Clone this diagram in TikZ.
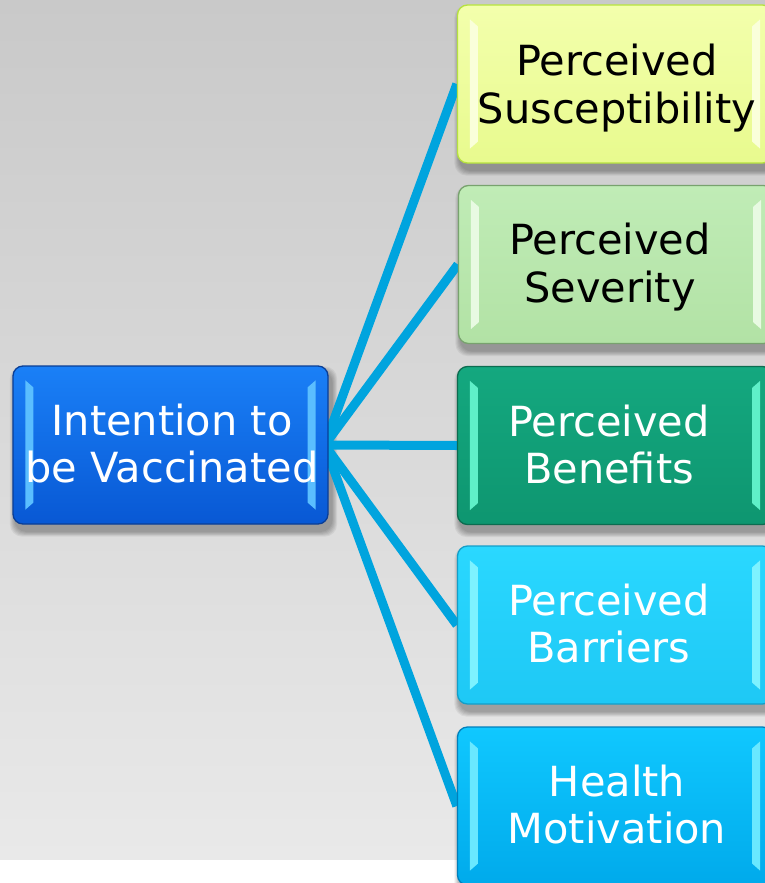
\documentclass[tikz,border=0pt]{standalone}
\usepackage{fontspec}
\setmainfont{DejaVu Sans}
\pgfdeclarelayer{bglayer}
\pgfdeclarelayer{shad}
\pgfdeclarelayer{conn}
\pgfsetlayers{bglayer,shad,conn,main}
\definecolor{bgtop}{RGB}{201,201,201}
\definecolor{bgbot}{RGB}{233,233,233}
\definecolor{linkc}{RGB}{0,164,222}
\definecolor{lbTop}{RGB}{26,128,247}\definecolor{lbBot}{RGB}{8,88,212}\definecolor{lbDraw}{RGB}{10,62,150}\definecolor{lbBev}{RGB}{90,190,255}
\definecolor{aTop}{RGB}{243,255,172}\definecolor{aBot}{RGB}{232,250,142}\definecolor{aDraw}{RGB}{182,226,62}\definecolor{aBev}{RGB}{250,255,218}
\definecolor{bTop}{RGB}{192,236,182}\definecolor{bBot}{RGB}{178,226,165}\definecolor{bDraw}{RGB}{120,162,110}\definecolor{bBev}{RGB}{232,250,226}
\definecolor{cTop}{RGB}{20,168,127}\definecolor{cBot}{RGB}{14,150,112}\definecolor{cDraw}{RGB}{12,108,80}\definecolor{cBev}{RGB}{95,240,200}
\definecolor{dTop}{RGB}{42,216,255}\definecolor{dBot}{RGB}{30,200,245}\definecolor{dDraw}{RGB}{20,158,200}\definecolor{dBev}{RGB}{125,242,255}
\definecolor{eTop}{RGB}{16,200,255}\definecolor{eBot}{RGB}{0,170,235}\definecolor{eDraw}{RGB}{0,128,188}\definecolor{eBev}{RGB}{105,232,255}
\newcommand\bevelstrips[2]{%
  \fill[#2] ([xshift=13pt,yshift=-15pt]#1.north west) -- ([xshift=21pt,yshift=-22pt]#1.north west)
     -- ([xshift=21pt,yshift=22pt]#1.south west) -- ([xshift=13pt,yshift=15pt]#1.south west) -- cycle;
  \fill[#2] ([xshift=-13pt,yshift=-15pt]#1.north east) -- ([xshift=-21pt,yshift=-22pt]#1.north east)
     -- ([xshift=-21pt,yshift=22pt]#1.south east) -- ([xshift=-13pt,yshift=15pt]#1.south east) -- cycle;}
\newcommand\softshadow[1]{%
  \begin{pgfonlayer}{shad}
  \foreach \s in {1,2,...,6}{%
    \fill[black, opacity=0.055, rounded corners=12pt]
      ([xshift={3pt-\s*0.9pt}, yshift={-6.5pt+\s*0.9pt}]#1.north west) rectangle
      ([xshift={3pt+\s*0.9pt}, yshift={-6.5pt-\s*0.9pt}]#1.south east);}
  \end{pgfonlayer}}
\tikzset{
  box/.style={rectangle, rounded corners=10pt, minimum width=315pt, minimum height=158pt,
    inner sep=0pt, line width=1.3pt},
  lbl/.style={anchor=base, inner sep=0pt, font=\fontsize{41.5}{47}\selectfont, text=#1},
  link/.style={draw=linkc, line width=9pt}
}
\begin{document}
\begin{tikzpicture}[x=1pt,y=-1pt]
\useasboundingbox (0,0) rectangle (765,883);
\begin{pgfonlayer}{bglayer}
  \fill[white] (0,0) rectangle (765,883);
  \fill[bgtop!50!bgbot] (0,0) rectangle (765,859);
  \shade[top color=bgtop, bottom color=bgbot] (0,0) rectangle (765,859);
\end{pgfonlayer}
\clip (0,0) rectangle (765,883);
% boxes
\node[box, top color=lbTop, bottom color=lbBot, draw=lbDraw] (hub) at (170.5,445) {};
\node[box, top color=aTop, bottom color=aBot, draw=aDraw] (sus) at (615,84) {};
\node[box, top color=bTop, bottom color=bBot, draw=bDraw] (sev) at (616,264.5) {};
\node[box, top color=cTop, bottom color=cBot, draw=cDraw] (ben) at (615,445.5) {};
\node[box, top color=dTop, bottom color=dBot, draw=dDraw] (bar) at (615,625) {};
\node[box, top color=eTop, bottom color=eBot, draw=eDraw] (hea) at (615,806) {};
\softshadow{hub}\softshadow{sus}\softshadow{sev}\softshadow{ben}\softshadow{bar}\softshadow{hea}
\bevelstrips{hub}{lbBev}
\bevelstrips{sus}{aBev}
\bevelstrips{sev}{bBev}
\bevelstrips{ben}{cBev}
\bevelstrips{bar}{dBev}
\bevelstrips{hea}{eBev}
% labels
\node[lbl=white] (hubA) at ([xshift=1.5pt,yshift=10pt]hub.center) {Intention to};
\node[lbl=white] (hubB) at ([xshift=1.5pt,yshift=-37pt]hub.center) {be Vaccinated};
\node[lbl=black] (susA) at ([xshift=2pt,yshift=9pt]sus.center) {Perceived};
\node[lbl=black] (susB) at ([xshift=2pt,yshift=-39pt]sus.center) {Susceptibility};
\node[lbl=black] (sevA) at ([xshift=-6pt,yshift=10pt]sev.center) {Perceived};
\node[lbl=black] (sevB) at ([xshift=-6pt,yshift=-37.5pt]sev.center) {Severity};
\node[lbl=white] (benA) at ([xshift=-6pt,yshift=9.5pt]ben.center) {Perceived};
\node[lbl=white] (benB) at ([xshift=-6pt,yshift=-37.5pt]ben.center) {Benefits};
\node[lbl=white] (barA) at ([xshift=-6pt,yshift=10pt]bar.center) {Perceived};
\node[lbl=white] (barB) at ([xshift=-6pt,yshift=-37.5pt]bar.center) {Barriers};
\node[lbl=white] (heaA) at ([xshift=2pt,yshift=9.5pt]hea.center) {Health};
\node[lbl=white] (heaB) at ([xshift=2pt,yshift=-37.5pt]hea.center) {Motivation};
% connectors
\begin{pgfonlayer}{conn}
  \draw[link] ([xshift=-4pt]hub.east) -- (sus.west);
  \draw[link] ([xshift=-4pt]hub.east) -- (sev.west);
  \draw[link] ([xshift=-4pt]hub.east) -- (ben.west);
  \draw[link] ([xshift=-4pt]hub.east) -- (bar.west);
  \draw[link] ([xshift=-4pt]hub.east) -- (hea.west);
\end{pgfonlayer}
\end{tikzpicture}
\end{document}
